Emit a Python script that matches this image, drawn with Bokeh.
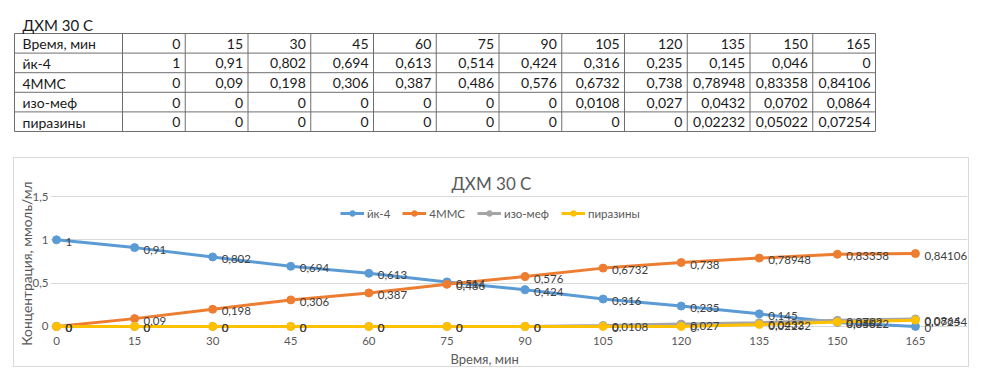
from bokeh.plotting import figure
from bokeh.models import (Range1d, FixedTicker, ColumnDataSource, LabelSet,
                          Legend, LegendItem, Spacer, Title)
from bokeh.layouts import column, row
from bokeh.embed import file_html
from bokeh.resources import INLINE
from bokeh.core.properties import value

# ---------------- data ----------------
title_text = "ДХМ 30 С"
time_header = "Время, мин"
time_min = [0, 15, 30, 45, 60, 75, 90, 105, 120, 135, 150, 165]
series_names = ["йк-4", "4ММС", "изо-меф", "пиразины"]
yk4 = [1, 0.91, 0.802, 0.694, 0.613, 0.514, 0.424, 0.316, 0.235, 0.145, 0.046, 0]
mmc4 = [0, 0.09, 0.198, 0.306, 0.387, 0.486, 0.576, 0.6732, 0.738, 0.78948, 0.83358, 0.84106]
izomef = [0, 0, 0, 0, 0, 0, 0, 0.0108, 0.027, 0.0432, 0.0702, 0.0864]
pirazin = [0, 0, 0, 0, 0, 0, 0, 0, 0, 0.02232, 0.05022, 0.07254]
series_values = [yk4, mmc4, izomef, pirazin]
y_ticks = [0, 0.5, 1, 1.5]
x_axis_title = "Время, мин"
y_axis_title = "Концентрация, ммоль/мл"

# ---------------- style ----------------
colors = ["#5B9BD5", "#ED7D31", "#A5A5A5", "#FFC000"]
FONT = "Lato"
GRAY = "#595959"


def fmt(v):
    return f"{v:g}".replace(".", ",")


# ---------------- table (drawn as a figure) ----------------
W = 974
TH = 157
tbl = figure(width=W, height=TH, x_range=Range1d(0, W), y_range=Range1d(TH, 0),
             x_axis_location=None, y_axis_location=None, output_backend="svg",
             toolbar_location=None, min_border=0)
tbl.grid.visible = False
tbl.outline_line_color = None

col_edges = [14, 122]
for _ in time_min:
    col_edges.append(col_edges[-1] + 62.75)
row_h = 19.6
row_edges = [33 + i * row_h for i in range(6)]

tbl.segment(x0=[col_edges[0]] * len(row_edges), x1=[col_edges[-1]] * len(row_edges),
            y0=row_edges, y1=row_edges, line_color="#6e6e6e", line_width=1)
tbl.segment(x0=col_edges, x1=col_edges, y0=[row_edges[0]] * len(col_edges),
            y1=[row_edges[-1]] * len(col_edges), line_color="#6e6e6e", line_width=1)

table_rows = [(time_header, [fmt(t) for t in time_min])] + \
    [(n, [fmt(v) for v in vals]) for n, vals in zip(series_names, series_values)]

hx, hy, ht = [], [], []
nx, ny, nt = [], [], []
for r, (name, cells) in enumerate(table_rows):
    yc = (row_edges[r] + row_edges[r + 1]) / 2 + 0.5
    hx.append(col_edges[0] + 8); hy.append(yc); ht.append(name)
    for c, s in enumerate(cells):
        nx.append(col_edges[c + 2] - 5); ny.append(yc); nt.append(s)

tbl.text(x=hx, y=hy, text=ht, text_align="left", text_baseline="middle",
         text_font=value(FONT), text_font_size="14px", text_color="#1a1a1a")
tbl.text(x=nx, y=ny, text=nt, text_align="right", text_baseline="middle",
         text_font=value(FONT), text_font_size="14px", text_color="#1a1a1a")
tbl.text(x=[22], y=[24], text=[title_text], text_align="left", text_baseline="middle",
         text_font=value(FONT), text_font_size="15px", text_color="#1a1a1a")

# ---------------- chart ----------------
ch = figure(frame_width=915, frame_height=136,
            x_range=Range1d(-1.155, 175.0), y_range=Range1d(-0.0703, 1.5234),
            min_border_left=36, min_border_right=3, min_border_top=36,
            min_border_bottom=36, output_backend="svg", toolbar_location=None,
            title=title_text)
ch.styles = {"border": "1px solid #D9D9D9"}
ch.outline_line_color = None
ch.title.align = "left"
ch.title.offset = 401
ch.title.text_font = FONT
ch.title.text_font_size = "17px"
ch.title.text_font_style = "normal"
ch.title.text_color = GRAY
ch.title.standoff = 1

ch.xgrid.visible = False
ch.ygrid.ticker = FixedTicker(ticks=y_ticks)
ch.ygrid.bounds = (time_min[0], time_min[-1])
ch.ygrid.grid_line_color = "#D9D9D9"
ch.ygrid.grid_line_width = 1

ch.xaxis.ticker = FixedTicker(ticks=time_min)
ch.yaxis.ticker = FixedTicker(ticks=y_ticks)
ch.yaxis.major_label_overrides = {t: fmt(t) for t in y_ticks}
for ax in (ch.xaxis, ch.yaxis):
    ax.axis_line_color = None
    ax.major_tick_line_color = None
    ax.minor_tick_line_color = None
    ax.major_tick_out = 0
    ax.major_tick_in = 0
    ax.minor_tick_out = 0
    ax.minor_tick_in = 0
    ax.major_label_text_font = FONT
    ax.major_label_text_font_size = "11.5px"
    ax.major_label_text_color = GRAY
    ax.axis_label_text_font = FONT
    ax.axis_label_text_font_size = "13.8px"
    ax.axis_label_text_font_style = "normal"
    ax.axis_label_text_color = GRAY
ch.yaxis.axis_label = y_axis_title
ch.xaxis.major_label_standoff = 4
ch.yaxis.major_label_standoff = 2
ch.yaxis.axis_label_standoff = -5

xt = Title(text=x_axis_title, align="left", offset=400, text_font=FONT,
           text_font_size="13px", text_font_style="normal", text_color=GRAY,
           standoff=2)
ch.add_layout(xt, "below")

items = []
for name, vals, col in zip(series_names, series_values, colors):
    src = ColumnDataSource(dict(x=time_min, y=vals, t=[fmt(v) for v in vals]))
    lr = ch.line("x", "y", source=src, line_color=col, line_width=3)
    sr = ch.scatter("x", "y", source=src, size=8, fill_color=col, line_color=col)
    items.append(LegendItem(label=name, renderers=[lr, sr]))

for name, vals, col in zip(series_names, series_values, colors):
    src = ColumnDataSource(dict(x=time_min, y=vals, t=[fmt(v) for v in vals]))
    ch.add_layout(LabelSet(x="x", y="y", text="t", source=src, x_offset=9, y_offset=-2,
                           text_baseline="middle", text_align="left",
                           text_font=value(FONT), text_font_size="11.5px",
                           text_color="#404040"))

legend = Legend(items=items, orientation="horizontal", location=(290, 112),
                border_line_color=None, background_fill_alpha=0,
                label_text_font=FONT, label_text_font_size="11.5px",
                label_text_color=GRAY, glyph_width=24, glyph_height=14,
                spacing=12, label_standoff=3, margin=0, padding=2)
ch.add_layout(legend)

layout = column(tbl, row(Spacer(width=13), ch))
open("out.html", "w").write(file_html(layout, INLINE))
